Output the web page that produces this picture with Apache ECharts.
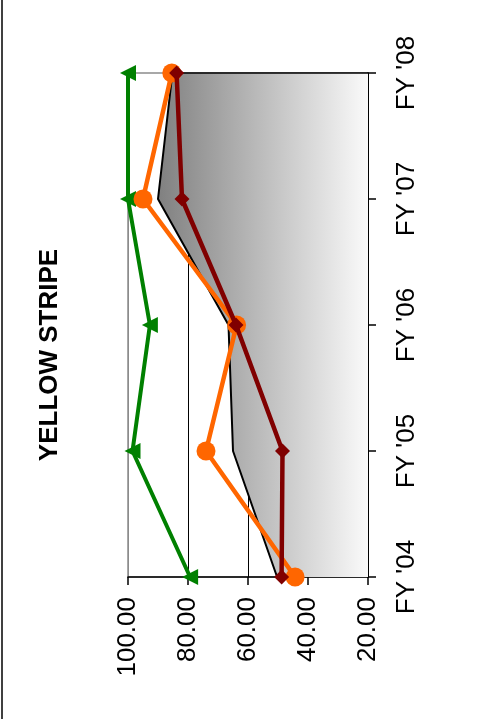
<!DOCTYPE html>
<html>
<head>
<meta charset="utf-8">
<script src="https://cdn.jsdelivr.net/npm/echarts@6/dist/echarts.min.js"></script>
<style>
html,body{margin:0;padding:0;background:#fff;}
#chart{width:491px;height:719px;}
</style>
</head>
<body>
<div id="chart"></div>
<script>
const categories = ["FY '04", "FY '05", "FY '06", "FY '07", "FY '08"];
const areaValues = [50.3, 65.0, 66.5, 90.0, 85.2];
const redValues = [48.8, 48.5, 64.0, 82.0, 83.8];
const orangeValues = [44.3, 74.0, 63.8, 95.0, 85.4];
const greenValues = [79.3, 98.5, 92.7, 100.0, 100.0];
const valueTicks = [20, 40, 60, 80, 100];
const titleText = 'YELLOW STRIPE';

const chart = echarts.init(document.getElementById('chart'));
const FONT = "'Liberation Sans', Arial, sans-serif";
chart.setOption({
  animation: false,
  backgroundColor: '#fff',
  grid: {left: 128, right: 123, top: 73, bottom: 142, show: true, borderColor: '#8c8c8c', borderWidth: 1.5, backgroundColor: 'transparent'},
  graphic: [
    {type: 'line', shape: {x1: 2, y1: 0, x2: 2, y2: 719}, style: {stroke: '#404040', lineWidth: 2}},
    {type: 'text', x: 50, y: 355, rotation: Math.PI / 2,
     style: {text: titleText, font: "bold 26px " + FONT, fill: '#000', textAlign: 'center', textVerticalAlign: 'middle'}}
  ],
  xAxis: {
    type: 'value', min: valueTicks[0], max: valueTicks[valueTicks.length - 1], interval: 20, inverse: true, position: 'bottom',
    axisLine: {show: true, lineStyle: {color: '#000', width: 1.5}},
    axisTick: {show: true, length: 8, lineStyle: {color: '#000', width: 1.5}},
    axisLabel: {rotate: 90, margin: 20, fontSize: 26, fontFamily: FONT, color: '#000', formatter: v => v.toFixed(2)},
    splitLine: {show: true, lineStyle: {color: ['#000', '#000', '#000', '#000', '#8c8c8c'], width: 1}}
  },
  yAxis: {
    type: 'category', data: categories, boundaryGap: false, position: 'right',
    axisLine: {show: true, lineStyle: {color: '#000', width: 1.5}},
    axisTick: {show: true, length: 8, lineStyle: {color: '#000', width: 1.5}},
    axisLabel: {rotate: 90, margin: 26, fontSize: 26, fontFamily: "'Liberation Sans Narrow', 'Arial Narrow', " + FONT, color: '#000'},
    splitLine: {show: false}
  },
  series: [
    {
      type: 'line', data: areaValues, symbol: 'none', z: 1,
      lineStyle: {color: '#000', width: 2},
      areaStyle: {origin: 'start', opacity: 1, color: new echarts.graphic.LinearGradient(0, 0, 1, 0, [
        {offset: 0, color: '#808080'}, {offset: 1, color: '#fafafa'}])},
      markLine: {symbol: 'none', silent: true, label: {show: false}, animation: false,
        lineStyle: {color: '#000', width: 1.5, type: 'solid'},
        data: [[{coord: [areaValues[4], categories[4]]}, {coord: [valueTicks[0], categories[4]]}]]}
    },
    {
      type: 'line', data: greenValues, symbol: 'triangle', symbolSize: 16, symbolRotate: 90, z: 3,
      lineStyle: {color: '#008000', width: 4}, itemStyle: {color: '#008000'}
    },
    {
      type: 'line', data: orangeValues, symbol: 'circle', symbolSize: 19, z: 4,
      lineStyle: {color: '#ff6600', width: 4.5}, itemStyle: {color: '#ff6600'}
    },
    {
      type: 'line', data: redValues, symbol: 'diamond', symbolSize: 15, z: 5,
      lineStyle: {color: '#800000', width: 4.5}, itemStyle: {color: '#800000'}
    }
  ]
});
</script>
</body>
</html>
